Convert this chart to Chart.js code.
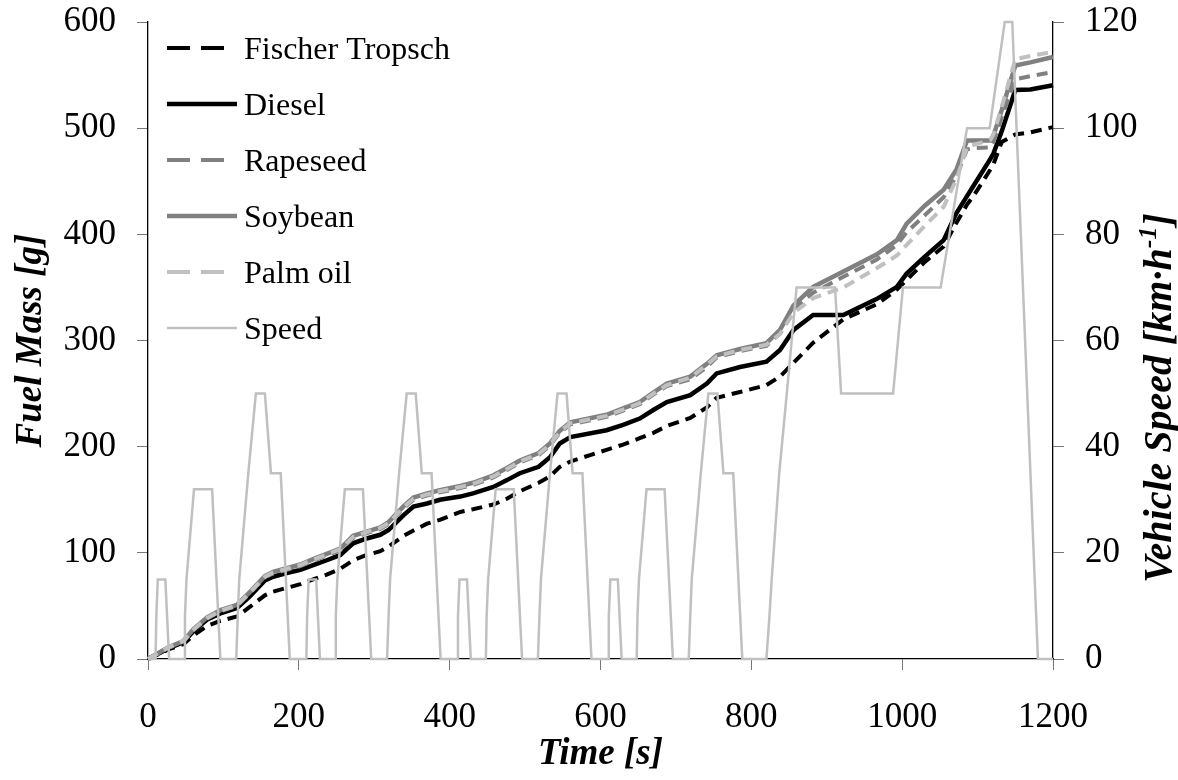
<!DOCTYPE html>
<html>
<head>
<meta charset="utf-8">
<script src="https://cdn.jsdelivr.net/npm/chart.js@4.4.1/dist/chart.umd.min.js"></script>
<style>
  html, body { margin: 0; padding: 0; background: #fff; }
</style>
</head>
<body>
<canvas id="chart" width="1178" height="780"></canvas>
<script>
// time axis for the cumulative fuel curves [s]
const fuelTime = [0, 27, 47, 60, 78, 96, 118, 135, 155, 166,
  184, 202, 219, 237, 255, 272, 290, 308, 319, 339,
  352, 370, 387, 414, 431, 458, 476, 493, 518, 533,
  546, 560, 608, 630, 652, 670, 688, 719, 741, 754,
  785, 820, 838, 856, 882, 922, 966, 993, 1006, 1030,
  1055, 1072, 1086, 1094, 1117, 1121, 1132, 1150, 1170, 1200];

// cumulative fuel mass [g]
const fischerTropsch = [0, 9, 14, 22, 31, 36, 40, 49, 60, 63.5,
  67, 70.5, 75, 79.5, 85, 93, 98, 101.5, 106, 116,
  121, 127.5, 131, 138.5, 141, 145.5, 151, 158, 166, 172,
  181, 186, 197, 202, 208, 213, 219.5, 227, 237, 246,
  251.5, 258, 266, 279, 298, 320, 334, 348, 357, 374,
  388.5, 411, 428, 435.5, 461, 466, 487, 494, 496, 501];
const diesel = [0, 10, 16, 26, 37, 43, 48, 59, 74, 77.5,
  81, 84, 88.5, 93, 98, 109, 113.5, 117, 121.5, 135.5,
  143.5, 146.5, 150, 153, 156, 162, 168.5, 175, 181, 190,
  203, 209, 215.5, 220.5, 226.5, 234.5, 242, 248.5, 259.5, 269,
  275, 280, 291, 310, 324, 324, 339, 350.5, 363, 379,
  394.5, 420, 436, 445, 471, 476, 497, 536, 536.5, 540.5];
const rapeseed = [0, 10.5, 16.5, 27, 38, 45, 50, 62, 77, 80.5,
  84, 87.5, 92.5, 97.5, 102.5, 114, 118.5, 122.5, 127, 142,
  150, 154, 157, 161, 164, 171, 178, 185, 192, 201,
  213, 221, 228, 234, 240, 249, 257, 263.5, 275, 284,
  290, 295, 307, 330, 345, 360, 376, 390, 402, 418,
  435, 455, 480, 481, 482, 487, 510, 546, 549, 553];
const soybean = [0, 11, 17, 28, 39, 46, 51, 63, 78, 82,
  85.5, 89, 94, 99, 104, 116, 120, 124, 129, 144,
  152, 156, 159, 163, 166, 173, 180, 187, 194, 203,
  215, 223, 230, 236, 242, 251, 259.5, 266, 278, 286,
  292, 297.5, 310, 333, 350.5, 365, 381, 394.5, 410, 427,
  442, 461, 488.5, 488.5, 488.5, 493, 517, 559, 562, 567];
const palmOil = [0, 11, 17, 27.5, 38.5, 45.5, 50.5, 62.5, 77.5, 81.5,
  85, 88.5, 93.5, 98.5, 103.5, 115, 119.5, 123.5, 128, 143,
  151, 155, 158, 162, 165, 172, 179, 186, 193, 202,
  214, 222, 229, 235, 241, 250, 258, 265, 277, 285,
  291, 296, 306, 326, 340, 350, 368, 380, 390, 408,
  426, 452, 482, 484, 489, 494, 520, 565, 568, 572];

// driving cycle speed [km/h]
const speedTime = [0, 10, 11, 13, 23, 28, 48, 49, 51, 61, 85, 96, 117, 119, 121, 133, 143, 155, 163, 176, 188,
  210, 211, 213, 223, 228, 248, 249, 251, 261, 285, 296, 317, 319, 321, 333, 343, 355, 363, 376, 388,
  410, 411, 413, 423, 428, 448, 449, 451, 461, 485, 496, 517, 519, 521, 533, 543, 555, 563, 576, 588,
  610, 611, 613, 623, 628, 648, 649, 651, 661, 685, 696, 717, 719, 721, 733, 743, 755, 763, 776, 788,
  820, 824, 827, 837, 847, 860, 911, 919, 988, 1001, 1051, 1086, 1116, 1136, 1146, 1180, 1200];
const speedValue = [0, 0, 8, 15, 15, 0, 0, 8, 15, 32, 32, 0, 0, 8, 15, 35, 50, 50, 35, 35, 0,
  0, 8, 15, 15, 0, 0, 8, 15, 32, 32, 0, 0, 8, 15, 35, 50, 50, 35, 35, 0,
  0, 8, 15, 15, 0, 0, 8, 15, 32, 32, 0, 0, 8, 15, 35, 50, 50, 35, 35, 0,
  0, 8, 15, 15, 0, 0, 8, 15, 32, 32, 0, 0, 8, 15, 35, 50, 50, 35, 35, 0,
  0, 8, 15, 35, 50, 70, 70, 50, 50, 70, 70, 100, 100, 120, 120, 0, 0];

const xTicks = [0, 200, 400, 600, 800, 1000, 1200];

const serif = '"Liberation Serif", "Times New Roman", serif';

function pts(xs, ys) {
  return xs.map((x, i) => ({ x: x, y: ys[i] }));
}

const datasets = [
  { label: 'Fischer Tropsch', data: pts(fuelTime, fischerTropsch), borderColor: '#000000', borderWidth: 4, borderDash: [11, 7], yAxisID: 'y', order: 5 },
  { label: 'Diesel', data: pts(fuelTime, diesel), borderColor: '#000000', borderWidth: 4.5, borderDash: [], yAxisID: 'y', order: 4 },
  { label: 'Rapeseed', data: pts(fuelTime, rapeseed), borderColor: '#808080', borderWidth: 4, borderDash: [11, 7], yAxisID: 'y', order: 3 },
  { label: 'Soybean', data: pts(fuelTime, soybean), borderColor: '#808080', borderWidth: 4.5, borderDash: [], yAxisID: 'y', order: 2 },
  { label: 'Palm oil', data: pts(fuelTime, palmOil), borderColor: '#c0c0c0', borderWidth: 4, borderDash: [11, 7], yAxisID: 'y', order: 1 },
  { label: 'Speed', data: pts(speedTime, speedValue), borderColor: '#c0c0c0', borderWidth: 2.5, borderDash: [], yAxisID: 'y1', order: 0 }
];
datasets.forEach(d => {
  d.pointRadius = 0;
  d.tension = 0;
  d.fill = false;
  d.clip = 4;
});

// legend inside the plot + right axis title with superscript
const overlay = {
  id: 'overlay',
  afterDraw(chart) {
    const ctx = chart.ctx;
    const area = chart.chartArea;
    ctx.save();
    chart.data.datasets.forEach((ds, i) => {
      const y = area.top + 26 + i * 56;
      const x0 = area.left + 19;
      const dashed = ds.borderDash.length > 0;
      ctx.strokeStyle = ds.borderColor;
      ctx.lineWidth = ds.borderWidth;
      ctx.setLineDash(dashed ? [23, 11] : []);
      ctx.beginPath();
      ctx.moveTo(x0, y);
      ctx.lineTo(dashed ? x0 + 57 : x0 + 70, y);
      ctx.stroke();
      ctx.setLineDash([]);
      ctx.fillStyle = '#000';
      ctx.font = '32px ' + serif;
      ctx.textBaseline = 'alphabetic';
      ctx.textAlign = 'left';
      ctx.fillText(ds.label, x0 + 77, y + 11);
    });

    // right title
    const bigFont = 'italic bold 40px ' + serif;
    const smallFont = 'italic bold 26px ' + serif;
    const main = 'Vehicle Speed [km·h';
    const sup = '-1';
    const end = ']';
    ctx.font = bigFont;
    const w1 = ctx.measureText(main).width;
    const w3 = ctx.measureText(end).width;
    ctx.font = smallFont;
    const w2 = ctx.measureText(sup).width;
    const total = w1 + w2 + w3;
    ctx.translate(1171, 398);
    ctx.rotate(-Math.PI / 2);
    ctx.fillStyle = '#000';
    ctx.textAlign = 'left';
    let x = -total / 2;
    ctx.font = bigFont;
    ctx.fillText(main, x, 0);
    x += w1;
    ctx.font = smallFont;
    ctx.fillText(sup, x, -15);
    x += w2;
    ctx.font = bigFont;
    ctx.fillText(end, x, 0);
    ctx.restore();
  }
};

const tickFont = { family: serif, size: 35 };
const titleFont = { family: serif, size: 37, style: 'italic', weight: 'bold' };

// keep the tick labels from pushing the plot area inward
function noEdgePad(s) {
  s.paddingTop = 0;
  s.paddingBottom = 0;
}

new Chart(document.getElementById('chart'), {
  type: 'line',
  data: { datasets: datasets },
  options: {
    responsive: false,
    animation: false,
    layout: { padding: { top: 22, bottom: 3, left: 0, right: 0 } },
    plugins: { legend: { display: false }, tooltip: { enabled: false } },
    scales: {
      x: {
        type: 'linear',
        min: 0,
        max: 1200,
        afterBuildTicks: s => { s.ticks = xTicks.map(v => ({ value: v })); },
        ticks: { font: tickFont, color: '#000', padding: 27, maxRotation: 0, callback: v => String(v) },
        grid: { drawOnChartArea: false, tickLength: 11, color: '#777' },
        border: { color: '#000', width: 1.3 },
        title: { display: true, text: 'Time [s]', font: titleFont, color: '#000', padding: { top: 0, bottom: 0 } },
        afterFit: s => { s.height = 118; s.paddingLeft = 0; s.paddingRight = 0; }
      },
      y: {
        position: 'left',
        min: 0,
        max: 600,
        ticks: { stepSize: 100, font: tickFont, color: '#000', padding: 21 },
        grid: { drawOnChartArea: false, tickLength: 11, color: '#777' },
        border: { color: '#000', width: 1.3 },
        title: { display: true, text: 'Fuel Mass [g]', font: titleFont, color: '#000', padding: { top: 9, bottom: 0 } },
        afterFit: s => { s.width = 148; noEdgePad(s); }
      },
      y1: {
        position: 'right',
        min: 0,
        max: 120,
        ticks: { stepSize: 20, font: tickFont, color: '#000', padding: 21 },
        grid: { drawOnChartArea: false, tickLength: 11, color: '#777' },
        border: { color: '#000', width: 1.3 },
        afterFit: s => { s.width = 125; noEdgePad(s); }
      }
    }
  },
  plugins: [overlay]
});
</script>
</body>
</html>
